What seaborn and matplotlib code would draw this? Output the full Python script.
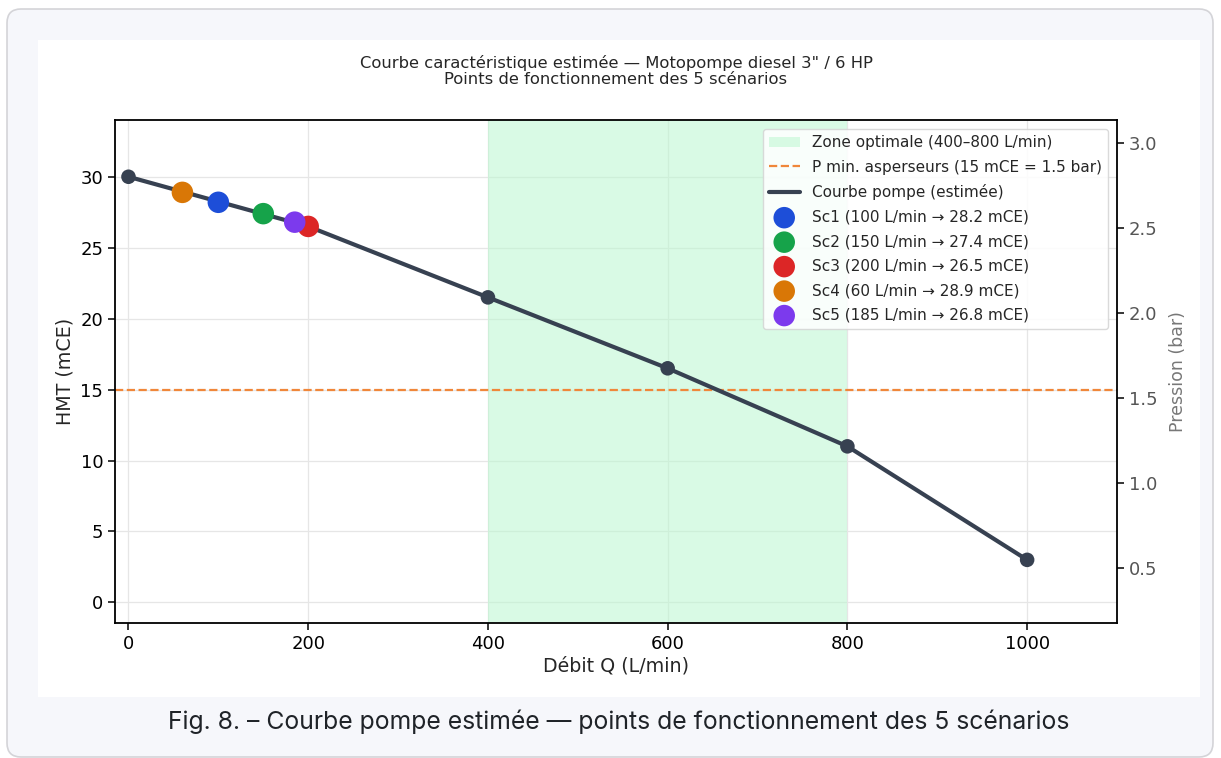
import matplotlib
matplotlib.use("Agg")
import matplotlib.pyplot as plt
import seaborn as sns
import pandas as pd
from matplotlib.patches import FancyBboxPatch, Rectangle

# Données
debit_courbe = [0, 200, 400, 600, 800, 1000]
hmt_courbe = [30, 26.5, 21.5, 16.5, 11, 3]

scenarios = ["Sc1", "Sc2", "Sc3", "Sc4", "Sc5"]
debit_sc = [100, 150, 200, 60, 185]
hmt_sc = [28.2, 27.4, 26.5, 28.9, 26.8]
couleurs_sc = ["#1d4ed8", "#16a34a", "#dc2626", "#d97706", "#7c3aed"]

zone_opt = (400, 800)
p_min = 15

sns.set_style("ticks")
plt.rcParams['font.family'] = ['DejaVu Sans']

W, H = 1221, 758
fig = plt.figure(figsize=(W / 100, H / 100), dpi=100)
fig.patch.set_facecolor("white")

# Carte de fond (cadre arrondi) + zone blanche de l'image, en pixels
fig.patches.append(FancyBboxPatch((7, 1), 1206, 748,
                                  boxstyle="round,pad=0,rounding_size=14",
                                  transform=None, facecolor="#f6f7fb",
                                  edgecolor="#d4d4d8", linewidth=1.2, zorder=-10))
fig.patches.append(Rectangle((38, H - 697), 1162, 657, transform=None,
                             facecolor="white", edgecolor="none", zorder=-9))

ax = fig.add_axes([115 / W, 1 - 623 / H, 1002 / W, 503 / H])
ax.set_facecolor("white")

ax.axvspan(*zone_opt, color="#bbf7d0", alpha=0.55, lw=0,
           label="Zone optimale (400–800 L/min)")
ax.axhline(p_min, color="#f0873a", ls="--", lw=1.6,
           label="P min. asperseurs (15 mCE = 1.5 bar)")

df_courbe = pd.DataFrame({"Q": debit_courbe, "H": hmt_courbe})
sns.lineplot(data=df_courbe, x="Q", y="H", ax=ax, color="#374151", lw=3,
             label="Courbe pompe (estimée)", zorder=3)
sns.scatterplot(data=df_courbe, x="Q", y="H", ax=ax, color="#374151", s=110,
                edgecolor="none", legend=False, zorder=3)

for nom, q, h, c in zip(scenarios, debit_sc, hmt_sc, couleurs_sc):
    sns.scatterplot(x=[q], y=[h], ax=ax, color=c, s=240, edgecolor="none",
                    label=f"{nom} ({q} L/min → {h} mCE)", zorder=4)

ax.set_xlim(-15, 1100)
ax.set_ylim(-1.45, 34)
ax.set_xticks([0, 200, 400, 600, 800, 1000])
ax.set_yticks([0, 5, 10, 15, 20, 25, 30])
ax.grid(True, color="#e6e6e6", lw=0.9)
ax.set_axisbelow(True)
for s in ax.spines.values():
    s.set_color("black")
    s.set_linewidth(1.3)
ax.tick_params(labelsize=13, length=5, width=1.1, color="black", labelcolor="black")
ax.set_xlabel("Débit Q (L/min)", fontsize=13.7, labelpad=3)
ax.set_ylabel("HMT (mCE)", fontsize=13.7)
ax.set_title("Courbe caractéristique estimée — Motopompe diesel 3\" / 6 HP\n"
             "Points de fonctionnement des 5 scénarios", fontsize=11.8, pad=26,
             linespacing=1.1)

ax2 = ax.twinx()
ax2.set_ylim(0.176, 3.135)
ax2.set_yticks([0.5, 1.0, 1.5, 2.0, 2.5, 3.0])
ax2.tick_params(labelsize=13, length=5, width=1.1, color="black", labelcolor="#555555")
ax2.set_ylabel("Pression (bar)", fontsize=12.5, color="#777777", labelpad=8)
ax2.grid(False)
for s in ax2.spines.values():
    s.set_visible(False)

leg = ax.legend(loc="upper right", fontsize=11, frameon=True, framealpha=0.85,
                edgecolor="#d4d4d4", borderaxespad=0.6, handlelength=2.0,
                labelspacing=0.62)
leg.get_frame().set_linewidth(1.0)

fig.text(619 / W, 1 - 722 / H,
         "Fig. 8. – Courbe pompe estimée — points de fonctionnement des 5 scénarios",
         ha="center", va="center", fontsize=17.8, color="#1f2328",
         family=["Inter", "DejaVu Sans"])

fig.savefig("out.png", dpi=100)
